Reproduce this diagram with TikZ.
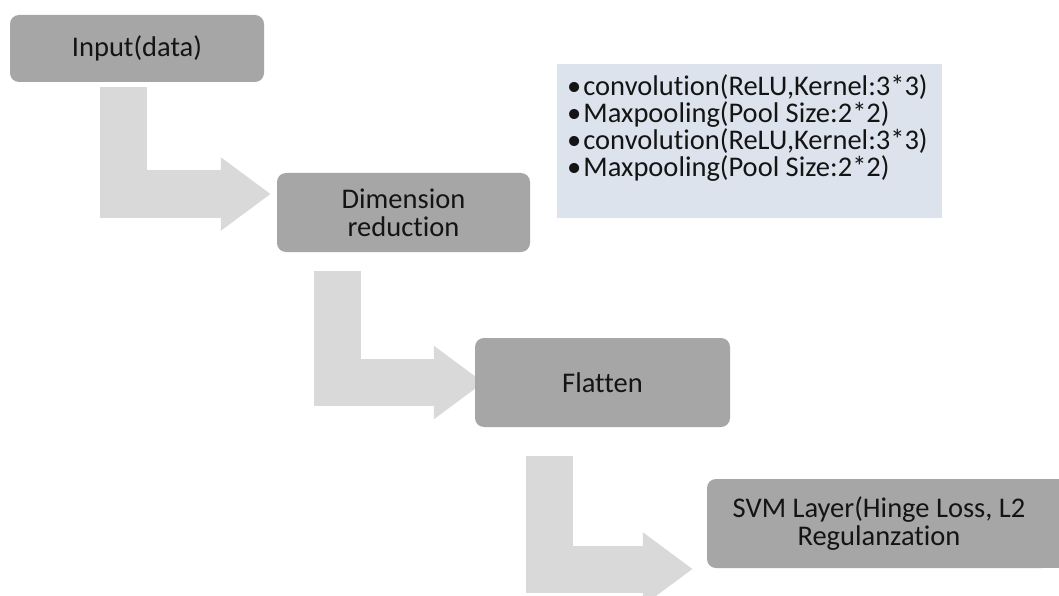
\documentclass[tikz,border=0pt]{standalone}
\usepackage{fontspec}
\setmainfont{Carlito}[Ligatures=NoCommon, RawFeature=-liga]
\usetikzlibrary{arrows.meta,backgrounds}

\definecolor{boxgray}{RGB}{166,166,166}
\definecolor{flowgray}{RGB}{217,217,217}
\definecolor{listblue}{RGB}{220,227,236}

\begin{document}
\begin{tikzpicture}[
    x=1pt, y=-1pt,
    stage/.style={fill=boxgray, rounded corners=9pt, align=center,
      text=black!92, inner sep=0pt,
      font=\fontsize{28.5}{28}\selectfont},
    flowarr/.style={draw=flowgray, line width=47pt,
      -{Triangle[width=70pt,length=50pt]}},
    lst/.style={fill=listblue, inner xsep=10pt, inner ysep=10pt,
      text=black!92, anchor=north west,
      font=\fontsize{28.5}{27.2}\selectfont}
  ]
  \useasboundingbox (0,0) rectangle (1059,596);

  % ── stages ──
  \node[stage, minimum width=254pt, minimum height=67pt] (inp)
    at (137,48.5) {Input(data)};
  \node[stage, minimum width=253pt, minimum height=79pt] (dim)
    at (403.5,212.5) {Dimension\\reduction};
  \node[stage, minimum width=255pt, minimum height=89pt] (flat)
    at (602.5,382.5) {Flatten};
  \node[stage, minimum width=344pt, minimum height=89pt] (svm)
    at (879,523.5) {SVM Layer(Hinge Loss, L2\\Regulanzation};

  % ── layer list ──
  \node[lst] (cnn) at (557,64) {\parbox[t][134pt][t]{365pt}{\raggedright
    \textbullet\hspace{2pt}convolution(ReLU,Kernel:3*3)\\
    \textbullet\hspace{2pt}Maxpooling(Pool Size:2*2)\\
    \textbullet\hspace{2pt}convolution(ReLU,Kernel:3*3)\\
    \textbullet\hspace{2pt}Maxpooling(Pool Size:2*2)}};

  % ── bent arrows, behind the boxes ──
  \begin{scope}[on background layer]
    \fill[white] (0,0) rectangle (1059,596);
    \draw[flowarr] ([xshift=113.5pt, yshift=-5pt]inp.south west)
      |- ([xshift=-6pt, yshift=18.5pt]dim.west);
    \draw[flowarr] ([xshift=60.5pt, yshift=-19pt]dim.south west)
      |- ([xshift=9pt]flat.west);
    \draw[flowarr] ([xshift=75pt, yshift=-29pt]flat.south west)
      |- ([xshift=-14pt, yshift=-45.5pt]svm.west);
    % svm box runs off the right edge
    \fill[boxgray] ([xshift=-20pt]svm.north east)
      rectangle ([xshift=30pt]svm.south east);
  \end{scope}

\end{tikzpicture}
\end{document}
